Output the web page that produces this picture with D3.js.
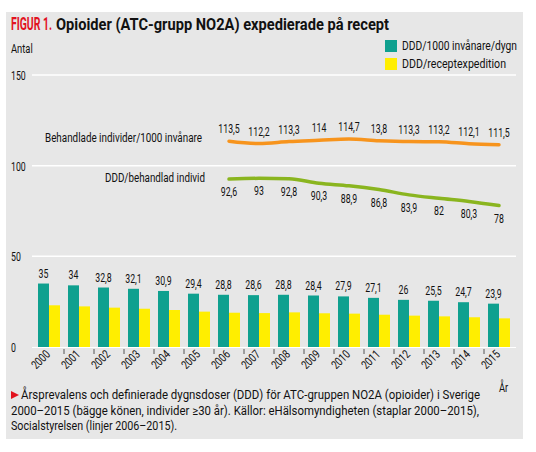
<!DOCTYPE html>
<html><head><meta charset="utf-8">
<script src="https://cdn.jsdelivr.net/npm/d3@7"></script>
<style>
html,body{margin:0;padding:0;background:#fff;}
svg{display:block;}
text{font-family:Roboto,"Noto Sans",sans-serif;fill:#111;}
</style></head>
<body><svg id="chart" width="536" height="452"></svg>
<script>
const years = [2000,2001,2002,2003,2004,2005,2006,2007,2008,2009,2010,2011,2012,2013,2014,2015];
const dddPer1000 = [35,34,32.8,32.1,30.9,29.4,28.8,28.6,28.8,28.4,27.9,27.1,26,25.5,24.7,23.9];
const dddPerRecept = [23.0,22.4,21.7,21.1,20.4,19.5,18.9,18.7,19.1,18.6,18.4,17.8,17.3,16.9,16.4,15.8];
const lineYears = [2006,2007,2008,2009,2010,2011,2012,2013,2014,2015];
const individer = [113.5,112.2,113.3,114,114.7,113.8,113.3,113.2,112.1,111.5];
const individerLabels = ["113,5","112,2","113,3","114","114,7","13,8","113,3","113,2","112,1","111,5"];
const dddPerIndivid = [92.6,93,92.8,90.3,88.9,86.8,83.9,82,80.3,78];
const yTicks = [0,50,100,150];
const legendItems = ["DDD/1000 invånare/dygn","DDD/receptexpedition"];
const colors = {teal:"#0fa08f", yellow:"#ffee00", orange:"#f7941d", green:"#8ab51f"};

const svg = d3.select("#chart");
const fmt = v => String(v).replace(".", ",");
const SX = 0.7;
const tr = (x,y,s=SX) => `translate(${x},${y}) scale(${s},1)`;

// panel
svg.append("rect").attr("x",6).attr("y",12).attr("width",517).attr("height",427).attr("fill","#e7e7e7");

// title
svg.append("text").attr("x",11).attr("y",30).attr("font-size",18).attr("font-weight","bold")
  .style("fill","#e2131f").attr("textLength",41).attr("lengthAdjust","spacingAndGlyphs").text("FIGUR 1.");
svg.append("text").attr("x",56).attr("y",30).attr("font-size",16.5).attr("font-weight","bold")
  .attr("textLength",333).attr("lengthAdjust","spacingAndGlyphs").text("Opioider (ATC-grupp NO2A) expedierade på recept");

svg.append("text").attr("transform",tr(11,53,0.75)).attr("font-size",12.5).text("Antal");

const y = d3.scaleLinear().domain([0,150]).range([347,75]);
const x = d3.scaleBand().domain(years).range([34,514]).paddingInner(8/30).paddingOuter(4/30);
const xs = d3.scaleBand().domain(["a","b"]).range([0,x.bandwidth()]);

// gridlines
svg.append("g").selectAll("line").data(yTicks.filter(d=>d>0)).join("line")
  .attr("x1",32).attr("x2",516).attr("y1",d=>y(d)).attr("y2",d=>y(d))
  .attr("stroke","#fff").attr("stroke-width",1.5);
svg.append("g").selectAll("text").data(yTicks).join("text")
  .attr("transform",d=>tr(11,y(d)+5)).attr("font-size",12.5).text(d=>d);

// bars
const g = svg.append("g");
g.selectAll(".t").data(years).join("rect").attr("class","t")
  .attr("x",d=>x(d)+xs("a")).attr("width",xs.bandwidth())
  .attr("y",(d,i)=>y(dddPer1000[i])).attr("height",(d,i)=>y(0)-y(dddPer1000[i])).attr("fill",colors.teal);
g.selectAll(".yb").data(years).join("rect").attr("class","yb")
  .attr("x",d=>x(d)+xs("b")).attr("width",xs.bandwidth())
  .attr("y",(d,i)=>y(dddPerRecept[i])).attr("height",(d,i)=>y(0)-y(dddPerRecept[i])).attr("fill",colors.yellow);
g.selectAll(".bl").data(years).join("text")
  .attr("transform",(d,i)=>tr(x(d)+xs("a")+xs.bandwidth()/2, y(dddPer1000[i])-6))
  .attr("text-anchor","middle").attr("font-size",12.5).text((d,i)=>fmt(dddPer1000[i]));

// baseline
svg.append("line").attr("x1",32).attr("x2",516).attr("y1",y(0)+0.5).attr("y2",y(0)+0.5).attr("stroke","#fff").attr("stroke-width",1);

// ticks between groups
svg.append("g").selectAll("line").data(years.slice(1)).join("line")
  .attr("x1",d=>x(d)-4).attr("x2",d=>x(d)-4).attr("y1",349).attr("y2",354)
  .attr("stroke","#555").attr("stroke-width",1);

// year labels
svg.append("g").selectAll("text").data(years).join("text")
  .attr("transform",d=>`translate(${x(d)+x.bandwidth()/2+2},${355}) rotate(-45) scale(0.78,1)`)
  .attr("text-anchor","end").attr("font-size",12).text(d=>d);

svg.append("text").attr("transform",tr(499,392,0.75)).attr("font-size",12.5).text("År");

// lines
const lx = d => x(d)+x.bandwidth()/2;
const line = d3.line().curve(d3.curveMonotoneX);
const oPts = lineYears.map((d,i)=>[lx(d),y(individer[i])]);
const gPts = lineYears.map((d,i)=>[lx(d),y(dddPerIndivid[i])]);
svg.append("path").attr("d",line(oPts)).attr("fill","none").attr("stroke",colors.orange).attr("stroke-width",3.5).attr("stroke-linecap","round");
svg.append("path").attr("d",line(gPts)).attr("fill","none").attr("stroke",colors.green).attr("stroke-width",3.5).attr("stroke-linecap","round");

svg.append("g").selectAll("text").data(lineYears).join("text")
  .attr("transform",(d,i)=>tr(lx(d), y(individer[i])-8))
  .attr("text-anchor","middle").attr("font-size",12.5).text((d,i)=>individerLabels[i]);
svg.append("g").selectAll("text").data(lineYears).join("text")
  .attr("transform",(d,i)=>tr(lx(d), y(dddPerIndivid[i])+17))
  .attr("text-anchor","middle").attr("font-size",12.5).text((d,i)=>fmt(dddPerIndivid[i]));

svg.append("text").attr("x",45).attr("y",oPts[0][1]+1)
  .attr("font-size",12.5).attr("textLength",157).attr("lengthAdjust","spacingAndGlyphs").text("Behandlade individer/1000 invånare");
svg.append("text").attr("x",105).attr("y",gPts[0][1]+3)
  .attr("font-size",12.5).attr("textLength",100).attr("lengthAdjust","spacingAndGlyphs").text("DDD/behandlad individ");

// legend
const legendLen = [115,104];
const lg = svg.append("g").selectAll("g").data(legendItems).join("g")
  .attr("transform",(d,i)=>`translate(385,${40+i*18})`);
lg.append("rect").attr("width",12).attr("height",12).attr("fill",(d,i)=>i?colors.yellow:colors.teal);
lg.append("text").attr("x",17).attr("y",10).attr("font-size",12.5)
  .attr("textLength",(d,i)=>legendLen[i]).attr("lengthAdjust","spacingAndGlyphs").text(d=>d);

// caption
const cap = [
  "Årsprevalens och definierade dygnsdoser (DDD) för ATC-gruppen NO2A (opioider) i Sverige",
  "2000–2015 (bägge könen, individer ≥30 år). Källor: eHälsomyndigheten (staplar 2000–2015),",
  "Socialstyrelsen (linjer 2006–2015)."
];
const capLen = [459,468,166];
svg.append("path").attr("d","M11,391 L19,395 L11,399 Z").attr("fill","#e2131f");
svg.append("g").selectAll("text").data(cap).join("text")
  .attr("font-size",12.5)
  .attr("textLength",(d,i)=>capLen[i]).attr("lengthAdjust","spacingAndGlyphs")
  .attr("x",(d,i)=>i===0?21:11).attr("y",(d,i)=>399+i*15.5).text(d=>d);
</script></body></html>
